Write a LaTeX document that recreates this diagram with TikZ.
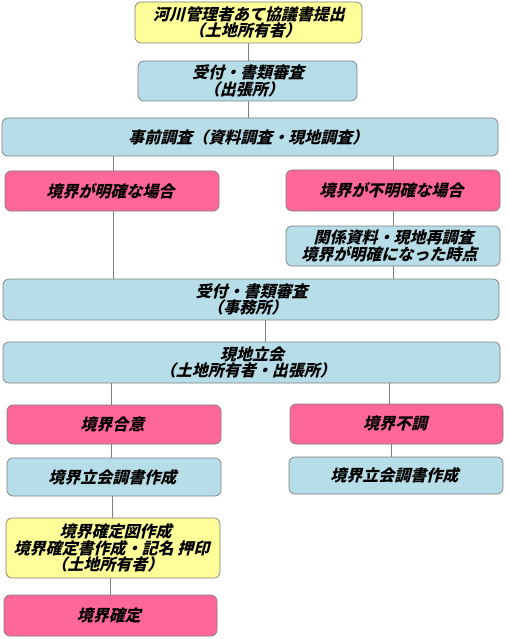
\documentclass[tikz,border=0pt]{standalone}
\usepackage{fontspec}
\newfontfamily\jp{Noto Sans CJK JP}
\definecolor{cyel}{HTML}{FFFF99}
\definecolor{cblue}{HTML}{B7DEE8}
\definecolor{cpink}{HTML}{FF6699}
\definecolor{cedge}{HTML}{7F7F7F}
\tikzset{
  box/.style={draw=cedge, line width=0.7pt, rounded corners=6pt, inner sep=0pt},
  yel/.style={box, fill=cyel},
  blu/.style={box, fill=cblue},
  pnk/.style={box, fill=cpink},
  txt/.style={align=center, inner sep=0pt, xslant=0.25, font=\jp\bfseries\fontsize{16}{16.5}\selectfont},
  link/.style={draw=cedge, line width=0.7pt}
}
\newcommand{\bx}[7]{% style, name, x1, y1, x2, y2, text
  \node[#1, minimum width={(#5-#3)*1pt}, minimum height={(#6-#4)*1pt}] (#2) at ({(#3+#5)/2},{(#4+#6)/2}) {};
  \node[txt] (#2t) at (#2.center) {#7};}
\begin{document}
\begin{tikzpicture}[x=1pt,y=-1pt]
\useasboundingbox (0,0) rectangle (508,639);
\bx{yel}{n1}{135}{2}{362}{43}{河川管理者あて協議書提出\\（土地所有者）}
\bx{blu}{n2}{138}{61}{357}{101}{受付・書類審査\\（出張所）}
\bx{blu}{n3}{2}{118}{498}{156}{事前調査（資料調査・現地調査）}
\bx{pnk}{n4}{5}{171}{219}{211}{境界が明確な場合}
\bx{pnk}{n5}{286}{170}{500}{211}{境界が不明確な場合}
\bx{blu}{n6}{286}{226}{500}{266}{関係資料・現地再調査\\境界が明確になった時点}
\bx{blu}{n7}{3}{279}{499}{320}{受付・書類審査\\（事務所）}
\bx{blu}{n8}{3}{342}{500}{383}{現地立会\\（土地所有者・出張所）}
\bx{pnk}{n9}{7}{405}{221}{444}{境界合意}
\bx{pnk}{n10}{290}{404}{503}{444}{境界不調}
\bx{blu}{n11}{7}{458}{221}{496}{境界立会調書作成}
\bx{blu}{n12}{289}{457}{503}{494}{境界立会調書作成}
\bx{yel}{n13}{6}{518}{220}{578}{境界確定図作成\\境界確定書作成・記名 押印\\（土地所有者）}
\bx{pnk}{n14}{4}{595}{217}{636}{境界確定}
\coordinate (xa) at (248,0);
\coordinate (xl) at (113,0);
\coordinate (xr) at (393,0);
\coordinate (xm) at (265,0);
\coordinate (xl2) at (111,0);
\coordinate (xr2) at (389,0);
\coordinate (xr3) at (391,0);
\coordinate (xl3) at (112,0);
\coordinate (xl4) at (110,0);
\draw[link] (n1.south -| xa) -- (n2.north -| xa);
\draw[link] (n2.south -| xa) -- (n3.north -| xa);
\draw[link] (n3.south -| xl) -- (n4.north -| xl);
\draw[link] (n3.south -| xr) -- (n5.north -| xr);
\draw[link] (n5.south -| xr) -- (n6.north -| xr);
\draw[link] (n4.south -| xl) -- (n7.north -| xl);
\draw[link] (n6.south -| xr) -- (n7.north -| xr);
\draw[link] (n7.south -| xm) -- (n8.north -| xm);
\draw[link] (n8.south -| xl2) -- (n9.north -| xl2);
\draw[link] (n8.south -| xr2) -- (n10.north -| xr2);
\draw[link] (n9.south -| xl2) -- (n11.north -| xl2);
\draw[link] (n10.south -| xr3) -- (n12.north -| xr3);
\draw[link] (n11.south -| xl3) -- (n13.north -| xl3);
\draw[link] (n13.south -| xl4) -- (n14.north -| xl4);
\end{tikzpicture}
\end{document}
